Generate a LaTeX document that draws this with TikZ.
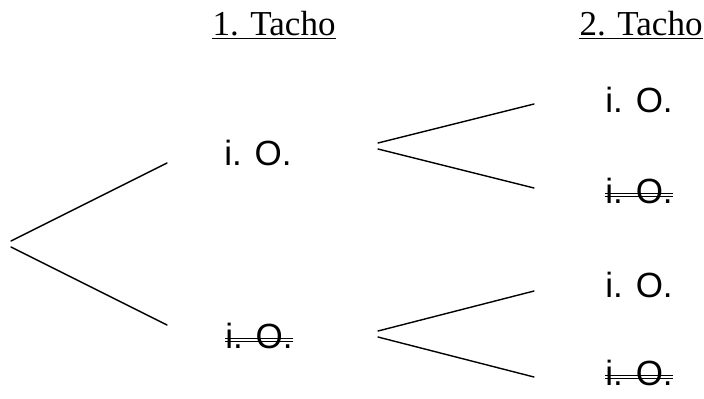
\documentclass[tikz,border=0pt]{standalone}
\usepackage{fontspec}
\setmainfont{Liberation Serif}
\newfontfamily\lsans{Liberation Sans}
\begin{document}
\begin{tikzpicture}[x=0.5pt,y=-0.5pt,
  head/.style={font=\fontsize{17.5}{21}\selectfont, inner sep=0pt, anchor=base},
  lbl/.style={font=\lsans\fontsize{17.5}{21}\selectfont, inner sep=0pt, anchor=base},
  branch/.style={line width=0.7pt, line cap=round},
  strike/.style={line width=0.5pt}]
\useasboundingbox (0,0) rectangle (704,398);
% headers
\node[head] (h1) at (274,35) {1. Tacho};
\node[head] (h2) at (641,35) {2. Tacho};
\draw[line width=0.6pt] ([yshift=-1.7pt]h1.base west) -- ([yshift=-1.7pt]h1.base east);
\draw[line width=0.6pt] ([yshift=-1.7pt]h2.base west) -- ([yshift=-1.7pt]h2.base east);
% labels
\node[lbl] (a1) at (258,165) {i. O.};
\node[lbl] (a2) at (259,348) {i. O.};
\node[lbl] (b1) at (639,112) {i. O.};
\node[lbl] (b2) at (639,203) {i. O.};
\node[lbl] (b3) at (639,297) {i. O.};
\node[lbl] (b4) at (639,385) {i. O.};
% strike-throughs (double lines)
\foreach \n in {a2,b2,b4}{
  \draw[strike] ([yshift=3.5pt]\n.base west) -- ([yshift=3.5pt]\n.base east);
  \draw[strike] ([yshift=5.0pt]\n.base west) -- ([yshift=5.0pt]\n.base east);
}
% branch coordinates
\coordinate (r1) at (11,241);
\coordinate (r2) at (11,247);
\coordinate (e1) at (167,163);
\coordinate (e2) at (167,325);
\coordinate (u1) at (378,143);
\coordinate (u2) at (378,149);
\coordinate (f1) at (534,104);
\coordinate (f2) at (534,188);
\coordinate (l1) at (378,331);
\coordinate (l2) at (378,337);
\coordinate (g1) at (534,291);
\coordinate (g2) at (534,377);
\draw[branch] (r1) -- (e1);
\draw[branch] (r2) -- (e2);
\draw[branch] (u1) -- (f1);
\draw[branch] (u2) -- (f2);
\draw[branch] (l1) -- (g1);
\draw[branch] (l2) -- (g2);
\end{tikzpicture}
\end{document}
